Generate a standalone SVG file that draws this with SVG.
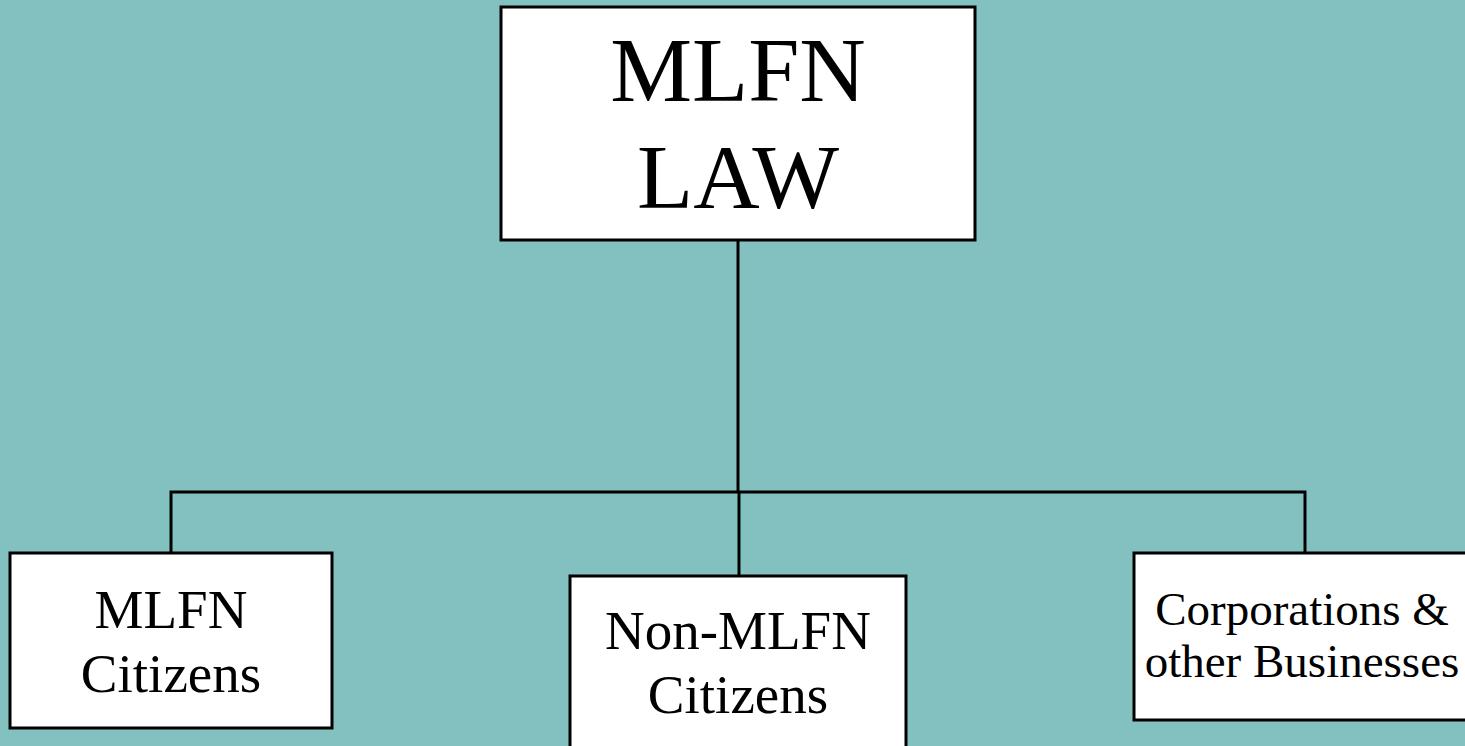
<svg xmlns="http://www.w3.org/2000/svg" width="1465" height="746" viewBox="0 0 1465 746">
<style>
.box{fill:#ffffff;stroke:#000000;stroke-width:3}
.con{fill:none;stroke:#000000;stroke-width:3}
text{font-family:"Liberation Serif","Times New Roman",serif;fill:#000000;text-anchor:middle}
</style>
<rect x="0" y="0" width="1465" height="746" fill="#83C1C1"/>
<g id="connectors">
<line class="con" x1="738" y1="240" x2="738" y2="492"/>
<polyline class="con" points="171,553 171,492 1305,492 1305,553"/>
<line class="con" x1="739" y1="492" x2="739" y2="576"/>
</g>
<g id="law">
<rect class="box" x="501" y="7" width="474" height="233"/>
<text x="738" y="101" font-size="92">MLFN</text>
<text x="738" y="208" font-size="92">LAW</text>
</g>
<g id="mlfn-citizens">
<rect class="box" x="10" y="553" width="322" height="175"/>
<text x="171" y="628" font-size="55">MLFN</text>
<text x="171" y="692" font-size="55">Citizens</text>
</g>
<g id="non-mlfn-citizens">
<rect class="box" x="570" y="576" width="336" height="180"/>
<text x="738" y="649" font-size="55">Non-MLFN</text>
<text x="738" y="713" font-size="55">Citizens</text>
</g>
<g id="corporations">
<rect class="box" x="1134" y="553" width="340" height="167"/>
<text x="1302" y="625" font-size="47">Corporations &amp;</text>
<text x="1302" y="677" font-size="47">other Businesses</text>
</g>
</svg>
